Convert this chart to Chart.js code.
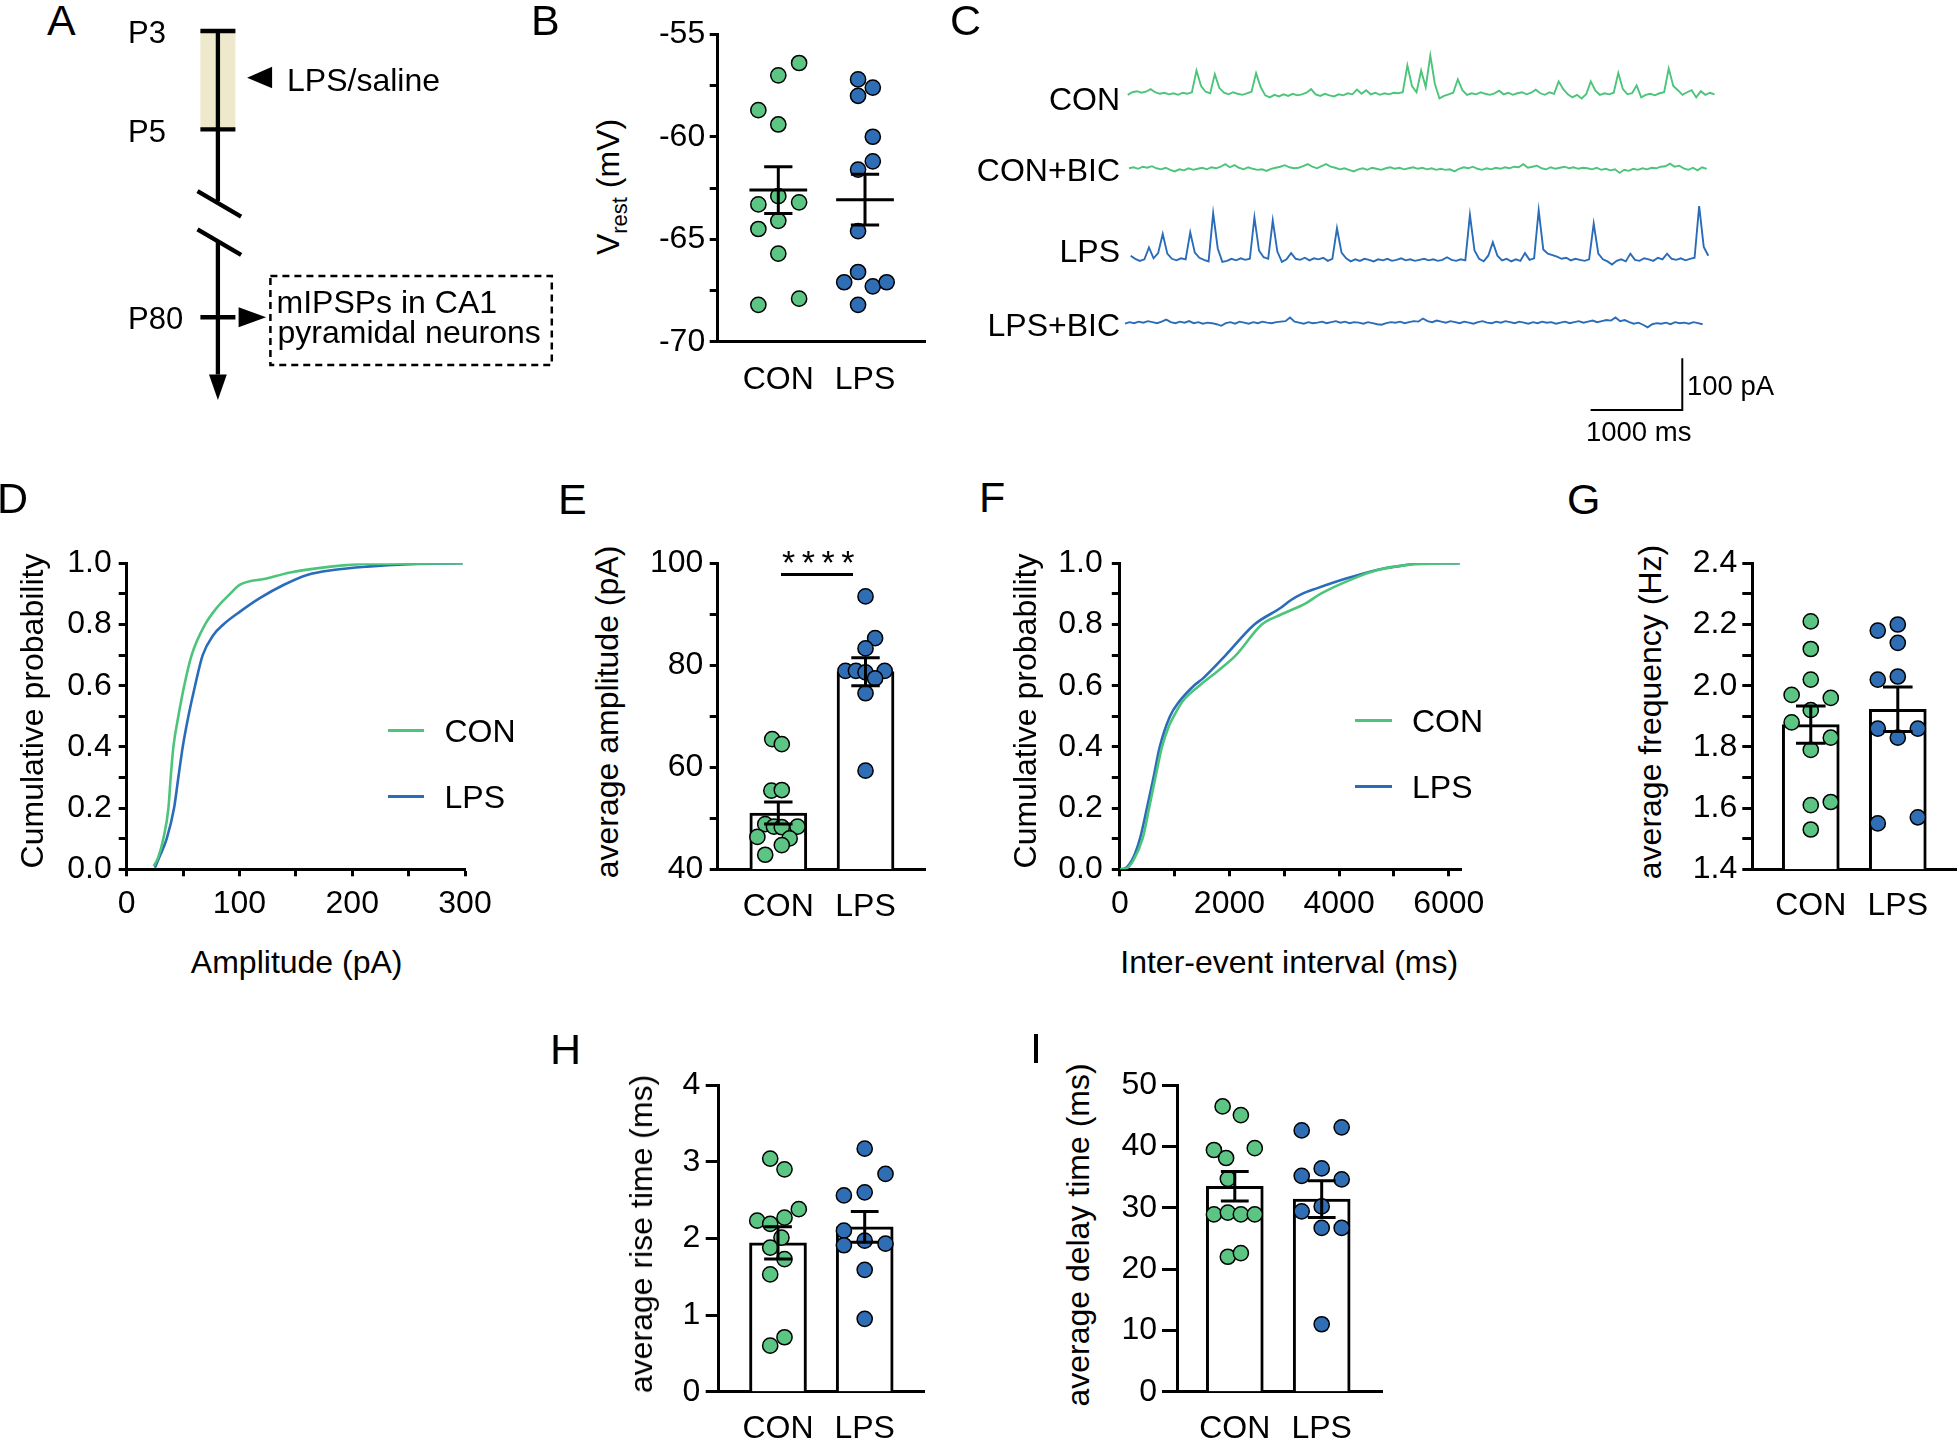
<!DOCTYPE html>
<html>
<head>
<meta charset="utf-8">
<script src="https://cdn.jsdelivr.net/npm/chart.js@4"></script>
<style>
  html, body { margin: 0; padding: 0; background: #fff; }
  #fig { position: relative; width: 1959px; height: 1442px; overflow: hidden; background: #fff;
         font-family: "Liberation Sans", Arial, Helvetica, sans-serif; color: #000; }
  #fig canvas { position: absolute; }
  .t { position: absolute; white-space: nowrap; line-height: 1; }
</style>
</head>
<body>
<div id="fig"></div>
<script>
// --- 1. DATA ---
const groups = ['CON', 'LPS'];

// A: timeline, positions along the age axis (P3 -> P5 = 1)
const stageLabels = ['P3', 'P5', 'P80'];
const stagePos = [0, 1, 2.912];
const treatSpan = [0, 1];
const axisBreak = [1.73, 2.14];
const axisEnd = 3.754;

// B: resting potential (mV); x = group position incl. jitter
const vrestCon  = [-56.4, -57.0, -58.7, -59.4, -62.9, -63.3, -63.2, -64.1, -64.5, -65.7, -67.9, -68.2];
const vrestConX = [1.24, 1.0, 0.77, 1.0, 1.0, 0.77, 1.24, 1.0, 0.77, 1.0, 1.24, 0.77];
const vrestLps  = [-57.2, -57.6, -58.0, -60.0, -61.2, -61.6, -64.6, -66.6, -67.1, -67.3, -67.1, -68.2];
const vrestLpsX = [1.92, 2.09, 1.92, 2.09, 2.09, 1.92, 1.92, 1.92, 1.76, 2.09, 2.25, 1.92];
const vrestMean = [-62.6, -63.07];
const vrestSem  = [1.14, 1.24];
const vrestTicks = [-70, -65, -60, -55];

// C: example traces, pA relative to baseline, one sample per 50 ms
const sampleMs = 50;
const traceNames = ['CON', 'CON+BIC', 'LPS', 'LPS+BIC'];
const conTrace = [-3,2,4,1,3,8,2,-1,1,-2, 0,-3,1,-1,2,44,14,3,0,37, 10,1,-2,2,-1,-3,0,3,39,12,
  -4,-8,-3,-6,-2,-5,-1,-4,-2,1, 8,-2,-5,-1,-4,-6,-2,-4,0,-2, 7,-1,6,-2,1,-3,0,-2,1,0,
  2,54,14,2,44,12,73,18,-10,-5, -2,1,27,6,-3,0,-2,2,-1,-3, 0,5,-2,1,-3,0,2,-2,1,7,
  0,-3,2,-1,23,8,-2,-8,-3,-10, -2,23,5,-3,0,-2,1,39,8,-2, 0,15,-8,-3,-1,-4,0,2,48,14,
  6,-3,2,6,-8,4,-3,1,-2];
const conBicTrace = [0,2,-1,3,1,4,0,-2,1,-3, -6,-2,-4,0,-3,-1,1,-2,2,0, 3,8,2,6,1,-2,2,-1,-3,-2,
  -5,-1,1,3,6,2,0,1,4,8, 3,0,4,8,3,1,-2,0,-3,-6, -2,0,-3,1,-1,-3,0,2,-1,1,
  -2,0,2,-1,1,-2,0,-3,-1,-3, -2,-6,-1,2,0,3,-1,-3,0,-2, 1,-1,2,0,3,2,8,1,3,5,
  0,-2,2,-1,1,3,0,2,-1,1, 0,-2,1,-3,-1,-4,-2,-9,-3,-5, -1,-3,0,-2,1,0,3,4,9,3,
  5,0,-3,1,-4,2,-1];
const lpsTrace = [8,2,-2,1,24,3,13,50,12,2, -1,3,1,53,14,4,0,-3,90,22, -4,-2,2,-1,3,0,2,82,18,5,
  2,76,16,-4,1,13,2,0,4,-1, 3,1,4,-2,2,61,14,3,-3,1, -2,2,0,-3,1,-1,2,-2,0,3,
  -1,1,-2,0,2,-1,1,-2,0,5, 0,-2,1,-1,87,18,2,-3,8,34, 8,-1,2,-3,1,-2,13,0,3,96,
  20,12,9,6,2,4,-1,2,0,-2, 1,70,12,1,-3,-9,-2,1,-3,12, 0,-2,3,1,-2,4,1,12,2,0,
  3,-1,2,4,104,25,8];
const lpsBicTrace = [-2,1,-1,2,0,3,1,-1,2,6, 1,-1,2,0,3,-1,1,-2,0,-1, -3,-6,-1,1,-2,2,0,-2,1,-1,
  2,0,-1,1,2,3,10,2,0,-2, 1,-1,0,2,-1,1,3,0,2,-1, 1,0,-2,1,-1,-3,-4,-1,1,0,
  2,-1,1,3,2,8,3,1,4,2, 0,3,1,-1,2,0,-2,1,3,0, -1,2,0,3,1,-1,2,0,-2,1,
  -1,2,0,1,-2,0,2,-1,1,3, 0,2,4,1,3,5,4,10,3,5, 1,-2,0,-4,-9,-3,-1,-2,0,-3,
  1,-1,0,-2,1,-1,-3];
const scaleBarMs = 1000;
const scaleBarPA = 100;

// D: cumulative amplitude distributions
const ampConX = [24, 28, 32.5, 37, 39, 41.4, 45.8, 51, 57.6, 69.5, 80, 91.6, 100.5, 124, 145, 183, 213, 298];
const ampConY = [0.01, 0.04, 0.1, 0.2, 0.3, 0.4, 0.5, 0.6, 0.7, 0.8, 0.855, 0.9, 0.93, 0.95, 0.97, 0.99, 0.998, 1.0];
const ampLpsX = [25, 29, 35.5, 42, 45.8, 49.7, 54.7, 60.6, 67.4, 76.9, 85.7, 100.5, 118, 139, 160, 183, 213, 251, 298];
const ampLpsY = [0.005, 0.04, 0.1, 0.2, 0.3, 0.4, 0.5, 0.6, 0.7, 0.766, 0.8, 0.842, 0.886, 0.929, 0.962, 0.978, 0.989, 0.997, 1.0];
const ampTicks = [0, 100, 200, 300];

// E: average amplitude (pA)
const ampCon  = [65.5, 64.5, 55.4, 55.5, 48.8, 48.3, 48.2, 48.3, 46.3, 46.0, 44.7, 42.8];
const ampConPX = [0.93, 1.04, 0.92, 1.04, 0.85, 0.95, 1.04, 1.22, 0.76, 1.13, 1.04, 0.85];
const ampLps  = [93.5, 85.3, 83.3, 78.9, 78.9, 78.6, 78.9, 77.4, 74.5, 59.3];
const ampLpsPX = [2.0, 2.11, 2.0, 1.77, 1.89, 2.0, 2.22, 2.11, 2.0, 2.0];
const ampMean = [51.0, 78.73];
const ampSem  = [2.15, 2.75];
const ampAvgTicks = [40, 60, 80, 100];

// F: cumulative inter-event interval distributions
const ieiConX = [0, 120, 250, 415, 535, 649, 769, 900, 983, 1150, 1451, 1800, 2120, 2589, 2923, 3391, 3659, 4261, 4700, 5264, 6200];
const ieiConY = [0, 0.003, 0.03, 0.1, 0.2, 0.3, 0.4, 0.47, 0.5, 0.55, 0.6, 0.65, 0.7, 0.8, 0.831, 0.869, 0.9, 0.95, 0.978, 0.995, 1.0];
const ieiLpsX = [0, 114, 250, 368, 495, 615, 729, 916, 1084, 1351, 1518, 1933, 2455, 2923, 3124, 3324, 3592, 4127, 4729, 5064, 5465, 6200];
const ieiLpsY = [0, 0.005, 0.04, 0.1, 0.2, 0.3, 0.4, 0.5, 0.548, 0.6, 0.624, 0.7, 0.8, 0.853, 0.88, 0.9, 0.918, 0.95, 0.98, 0.99, 1.0, 1.0];
const ieiTicks = [0, 2000, 4000, 6000];
const probTicks = [0, 0.2, 0.4, 0.6, 0.8, 1.0];

// G: average frequency (Hz)
const freqCon  = [2.21, 2.12, 2.02, 1.97, 1.96, 1.92, 1.88, 1.83, 1.79, 1.62, 1.61, 1.53];
const freqConX = [1.0, 1.0, 1.0, 0.78, 1.23, 1.0, 0.78, 1.23, 1.0, 1.23, 1.0, 1.0];
const freqLps  = [2.18, 2.20, 2.14, 2.02, 2.03, 1.86, 1.83, 1.86, 1.55, 1.57];
const freqLpsX = [1.77, 2.0, 2.0, 1.77, 2.0, 1.77, 2.0, 2.23, 1.77, 2.23];
const freqMean = [1.873, 1.923];
const freqSem  = [0.061, 0.073];
const freqTicks = [1.4, 1.6, 1.8, 2.0, 2.2, 2.4];

// H: average rise time (ms)
const riseCon  = [3.04, 2.90, 2.38, 2.23, 2.27, 2.19, 2.01, 1.88, 1.73, 1.53, 0.71, 0.60];
const riseConX = [0.91, 1.075, 1.24, 0.76, 1.075, 0.91, 1.04, 0.91, 1.075, 0.91, 1.075, 0.91];
const riseLps  = [3.17, 2.84, 2.56, 2.60, 2.10, 1.97, 1.91, 1.93, 1.59, 0.95];
const riseLpsX = [2.0, 2.24, 1.76, 2.0, 1.76, 2.0, 1.76, 2.24, 2.0, 2.0];
const riseMean = [1.94, 2.15];
const riseSem  = [0.21, 0.20];
const riseTicks = [0, 1, 2, 3, 4];

// I: average delay time (ms)
const delayCon  = [46.5, 45.1, 39.4, 39.7, 38.1, 34.7, 28.9, 29.2, 28.9, 28.9, 22.0, 22.6];
const delayConX = [0.86, 1.07, 0.76, 1.23, 0.90, 0.92, 0.76, 0.92, 1.07, 1.23, 0.92, 1.07];
const delayLps  = [42.6, 43.1, 36.4, 35.2, 34.6, 30.2, 29.4, 26.7, 26.7, 11.0];
const delayLpsX = [1.77, 2.23, 2.0, 1.77, 2.23, 2.0, 1.77, 2.0, 2.23, 2.0];
const delayMean = [33.5, 31.4];
const delaySem  = [2.4, 3.0];
const delayTicks = [0, 10, 20, 30, 40, 50];

// --- 2. STYLE & HELPERS ---
const FONT = '"Liberation Sans", Arial, Helvetica, sans-serif';
const DOT_GREEN = '#5cc584', DOT_BLUE = '#2f6db5';
const LINE_GREEN = '#4cc47a', LINE_BLUE = '#2a6cba';
const BEIGE = '#eee8cc';
Chart.defaults.font.family = FONT;
Chart.defaults.color = '#000';

const fig = document.getElementById('fig');

function addCanvas(left, top, w, h) {
    const c = document.createElement('canvas');
    c.width = w; c.height = h;
    c.style.left = left + 'px'; c.style.top = top + 'px';
    c.style.width = w + 'px'; c.style.height = h + 'px';
    fig.appendChild(c);
    return c;
}

// y is the centre of the capitals; rotated labels are centred on (x, y)
function addText(html, x, y, size, align, rotate, extra) {
    const d = document.createElement('div');
    d.className = 't';
    d.innerHTML = html;
    d.style.fontSize = size + 'px';
    if (rotate) {
        d.style.left = x + 'px'; d.style.top = y + 'px';
        d.style.transform = 'translate(-50%,-50%) rotate(-90deg)';
    } else {
        d.style.top = (y - 0.4885 * size) + 'px';
        if (align === 'right') d.style.right = (1959 - x) + 'px';
        else if (align === 'center') { d.style.left = x + 'px'; d.style.transform = 'translateX(-50%)'; }
        else d.style.left = x + 'px';
    }
    if (extra) Object.assign(d.style, extra);
    fig.appendChild(d);
    return d;
}

function addRule(left, top, w, h, color) {
    const d = document.createElement('div');
    Object.assign(d.style, { position: 'absolute', left: left + 'px', top: top + 'px', width: w + 'px', height: h + 'px', background: color });
    fig.appendChild(d);
}

function zeroPad(s) { s.paddingLeft = s.paddingRight = s.paddingTop = s.paddingBottom = 0; }
const near = (list, v) => list.some(t => Math.abs(t - v) < 1e-9);
const midpoints = list => list.slice(1).map((v, i) => (v + list[i]) / 2);

function baseOptions(box, area) {
    const [cl, ct, cw, ch] = box;
    const [l, t, r, b] = area;
    return {
        responsive: false, animation: false, events: [],
        layout: { autoPadding: false, padding: { left: 0, top: t - ct, right: cl + cw - r, bottom: 0 } },
        plugins: { legend: { display: false }, tooltip: { enabled: false } },
        _yWidth: l - cl, _xHeight: ct + ch - b
    };
}

function errorPoints(mean, sem, cap, meanHalf) {
    const pts = [];
    mean.forEach((m, i) => {
        const x = i + 1, hi = m + sem[i], lo = m - sem[i];
        pts.push({ x: x - cap, y: hi }, { x: x + cap, y: hi }, { x, y: null },
                 { x, y: hi }, { x, y: lo }, { x, y: null },
                 { x: x - cap, y: lo }, { x: x + cap, y: lo }, { x, y: null });
        if (meanHalf) pts.push({ x: x - meanHalf, y: m }, { x: x + meanHalf, y: m }, { x, y: null });
    });
    return pts;
}

// dot plot with optional bars, mean +/- SEM
function groupPanel(p) {
    const canvas = addCanvas(...p.box);
    const opts = baseOptions(p.box, p.area);
    const yAll = p.ticks.concat(p.minor ? midpoints(p.ticks) : []).sort((a, c) => a - c);
    const datasets = [];
    if (p.bars) {
        datasets.push({
            type: 'bar', order: 3,
            data: p.mean.map((m, i) => ({ x: i + 1, y: [p.ticks[0], m] })),
            backgroundColor: '#fff', borderColor: '#000', borderWidth: 3, barThickness: 57, borderSkipped: 'start'
        });
    }
    [[p.con, p.conX, DOT_GREEN], [p.lps, p.lpsX, DOT_BLUE]].forEach(([vals, xs, col]) => {
        datasets.push({
            type: 'scatter', order: 2,
            data: vals.map((v, i) => ({ x: xs[i], y: v })),
            pointRadius: 7.6, backgroundColor: col, borderColor: '#000', borderWidth: 1.5
        });
    });
    datasets.push({
        type: 'line', order: 1, data: errorPoints(p.mean, p.sem, p.cap, p.meanHalf),
        borderColor: '#000', borderWidth: 3, pointRadius: 0, fill: false, spanGaps: false, tension: 0
    });
    opts.scales = {
        x: {
            type: 'linear', min: p.xMin, max: p.xMax, offset: false,
            afterBuildTicks: s => { s.ticks = groups.map((g, i) => ({ value: i + 1 })); },
            afterFit: s => { s.height = opts._xHeight; zeroPad(s); },
            ticks: { callback: v => groups[Math.round(v) - 1], font: { size: 32 }, color: '#000', padding: p.xPad, autoSkip: false, maxRotation: 0, minRotation: 0 },
            grid: { display: false, offset: false },
            border: { display: true, width: 3, color: '#000' }
        },
        y: {
            type: 'linear', min: p.ticks[0], max: p.ticks[p.ticks.length - 1],
            afterBuildTicks: s => { s.ticks = yAll.map(v => ({ value: v })); },
            afterFit: s => { s.width = opts._yWidth; zeroPad(s); },
            ticks: { callback: v => near(p.ticks, v) ? p.fmt(v) : '', font: { size: 32 }, color: '#000', padding: p.yPad, autoSkip: false },
            grid: { display: true, drawOnChartArea: false, drawTicks: true, tickLength: p.tickLen, tickWidth: 3, tickColor: '#000' },
            border: { display: true, width: 3, color: '#000' }
        }
    };
    new Chart(canvas, { type: 'scatter', data: { datasets }, options: opts });
}

// cumulative probability panel
function cdfPanel(p) {
    const canvas = addCanvas(...p.box);
    const opts = baseOptions(p.box, p.area);
    const xAll = p.xTicks.concat(midpoints(p.xTicks)).sort((a, c) => a - c);
    const yAll = probTicks.concat(midpoints(probTicks)).sort((a, c) => a - c);
    const line = (xs, ys, col, order) => ({
        data: xs.map((x, i) => ({ x, y: ys[i] })), borderColor: col, order,
        borderWidth: 2.6, pointRadius: 0, fill: false, cubicInterpolationMode: 'monotone'
    });
    opts.scales = {
        x: {
            type: 'linear', min: 0, max: p.xMax,
            afterBuildTicks: s => { s.ticks = xAll.map(v => ({ value: v })); },
            afterFit: s => { s.height = opts._xHeight; zeroPad(s); },
            ticks: { callback: v => near(p.xTicks, v) ? String(v) : '', font: { size: 32 }, color: '#000', padding: 9, autoSkip: false, maxRotation: 0, minRotation: 0 },
            grid: { display: true, drawOnChartArea: false, drawTicks: true, tickLength: 7, tickWidth: 3, tickColor: '#000' },
            border: { display: true, width: 3, color: '#000' }
        },
        y: {
            type: 'linear', min: 0, max: 1,
            afterBuildTicks: s => { s.ticks = yAll.map(v => ({ value: v })); },
            afterFit: s => { s.width = opts._yWidth; zeroPad(s); },
            ticks: { callback: v => near(probTicks, v) ? v.toFixed(1) : '', font: { size: 32 }, color: '#000', padding: p.yPad, autoSkip: false },
            grid: { display: true, drawOnChartArea: false, drawTicks: true, tickLength: 8, tickWidth: 3, tickColor: '#000' },
            border: { display: true, width: 3, color: '#000' }
        }
    };
    new Chart(canvas, {
        type: 'line',
        data: { datasets: [line(p.conX, p.conY, LINE_GREEN, 0), line(p.lpsX, p.lpsY, LINE_BLUE, 1)] },
        options: opts
    });
}

// --- 3. PANEL A : timeline schematic ---
(function () {
    const canvas = addCanvas(100, 0, 470, 410);
    const hw = 17.5;                       // half width of the stage bars (px)
    const black = { borderColor: '#000', borderWidth: 4.3, pointRadius: 0, fill: false, tension: 0 };
    const poly = (pts, extra) => Object.assign({ data: pts.concat([pts[0]]), pointRadius: 0, tension: 0 }, extra);
    const ticks = [];
    stagePos.forEach(s => ticks.push({ x: -hw, y: s }, { x: hw, y: s }, { x: 0, y: null }));
    const datasets = [
        poly([{ x: -hw, y: treatSpan[0] }, { x: hw, y: treatSpan[0] }, { x: hw, y: treatSpan[1] }, { x: -hw, y: treatSpan[1] }],
             { fill: 'shape', backgroundColor: BEIGE, borderWidth: 0, order: 5 }),
        Object.assign({ data: [{ x: 0, y: stagePos[0] }, { x: 0, y: axisBreak[0] }, { x: 0, y: null },
                               { x: 0, y: axisBreak[1] }, { x: 0, y: axisEnd - 0.26 }], order: 2 }, black),
        Object.assign({ data: ticks, order: 2 }, black),
        Object.assign({ data: [{ x: -20.4, y: axisBreak[0] - 0.102 }, { x: 23.2, y: axisBreak[0] + 0.159 }, { x: 0, y: null },
                               { x: -20.4, y: axisBreak[1] - 0.123 }, { x: 23.2, y: axisBreak[1] + 0.137 }], order: 2 }, black),
        poly([{ x: 0, y: axisEnd }, { x: -8.9, y: axisEnd - 0.26 }, { x: 8.9, y: axisEnd - 0.26 }],
             { fill: 'shape', backgroundColor: '#000', borderWidth: 0, order: 1 }),
        poly([{ x: 48.2, y: stagePos[2] }, { x: 20.7, y: stagePos[2] - 0.102 }, { x: 20.7, y: stagePos[2] + 0.102 }],
             { fill: 'shape', backgroundColor: '#000', borderWidth: 0, order: 1 }),
        poly([{ x: 29.2, y: 0.475 }, { x: 54.2, y: 0.364 }, { x: 54.2, y: 0.583 }],
             { fill: 'shape', backgroundColor: '#000', borderWidth: 0, order: 1 }),
        poly([{ x: 52.5, y: 2.492 }, { x: 333.9, y: 2.492 }, { x: 333.9, y: 3.398 }, { x: 52.5, y: 3.398 }],
             { fill: false, borderColor: '#000', borderWidth: 2.5, borderDash: [7, 5], order: 1 })
    ];
    new Chart(canvas, {
        type: 'line',
        data: { datasets },
        options: {
            responsive: false, animation: false, events: [],
            layout: { autoPadding: false, padding: 0 },
            plugins: { legend: { display: false }, tooltip: { enabled: false } },
            scales: {
                x: { type: 'linear', display: false, min: -117.9, max: 352.1 },
                y: { type: 'linear', display: false, min: -0.3154, max: 3.8555, reverse: true }
            }
        }
    });
    const stageY = [32.5, 130.8, 318.3];
    stageLabels.forEach((s, i) => addText(s, 128, stageY[i], 31));
    addText('LPS/saline', 287, 80, 32);
    addText('mIPSPs in CA1', 276.5, 301.5, 32);
    addText('pyramidal neurons', 277.5, 331.5, 32);
})();

// --- 4. PANEL B ---
groupPanel({
    box: [640, 10, 320, 400], area: [717.7, 34.3, 925, 341.7],
    xMin: 0.301, xMax: 2.692, ticks: vrestTicks, minor: true, fmt: v => String(v),
    tickLen: 8, yPad: 4.5, xPad: 11.5,
    con: vrestCon, conX: vrestConX, lps: vrestLps, lpsX: vrestLpsX,
    mean: vrestMean, sem: vrestSem, cap: 0.163, meanHalf: 0.333, bars: false
});
addText('V<span style="font-size:22px;position:relative;top:8px">rest</span> (mV)', 607.5, 186.7, 32, null, true);

// --- 5. PANEL C : traces ---
(function () {
    const canvas = addCanvas(1100, 30, 640, 420);
    const traces = [conTrace, conBicTrace, lpsTrace, lpsBicTrace];
    const base = [622, 477, 300, 178.5];     // vertical offsets of the stacked traces (pA)
    const start = [8, 22, 40, -22];          // horizontal start of each trace (ms)
    const cols = [LINE_GREEN, LINE_GREEN, LINE_BLUE, LINE_BLUE];
    const bar = { x: 6056, y: 9.7 };         // corner of the scale bar
    const datasets = traces.map((tr, k) => ({
        data: tr.map((v, i) => ({ x: start[k] + i * sampleMs, y: base[k] + v })),
        borderColor: cols[k], borderWidth: 1.9, pointRadius: 0, fill: false, tension: 0
    }));
    datasets.push({
        data: [{ x: bar.x - scaleBarMs, y: bar.y }, { x: bar.x, y: bar.y }, { x: bar.x, y: bar.y + scaleBarPA }],
        borderColor: '#000', borderWidth: 2, pointRadius: 0, fill: false, tension: 0
    });
    new Chart(canvas, {
        type: 'line',
        data: { datasets },
        options: {
            responsive: false, animation: false, events: [],
            layout: { autoPadding: false, padding: { left: 17.8, top: 10, right: 17, bottom: 35 } },
            plugins: { legend: { display: false }, tooltip: { enabled: false } },
            scales: {
                x: { type: 'linear', display: false, min: -100, max: 6500 },
                y: { type: 'linear', display: false, min: 0, max: 725 }
            }
        }
    });
    const labelY = [98.3, 170, 250.5, 325];
    traceNames.forEach((n, i) => addText(n, 1120, labelY[i], 32, 'right'));
    addText(scaleBarPA + ' pA', 1687, 385, 27.5);
    addText(scaleBarMs + ' ms', 1638.7, 431, 27.5, 'center');
})();

// --- 6. PANEL D ---
cdfPanel({
    box: [40, 540, 470, 380], area: [126.7, 563.3, 465, 869.3],
    xMax: 300, xTicks: ampTicks, yPad: 7,
    conX: ampConX, conY: ampConY, lpsX: ampLpsX, lpsY: ampLpsY
});
addText('Cumulative probability', 31.7, 710.8, 32, null, true);
addText('Amplitude (pA)', 296.7, 961.7, 32, 'center');
addRule(388, 728.5, 36, 3.3, LINE_GREEN);
addRule(388, 795, 36, 3.3, LINE_BLUE);
addText('CON', 444.5, 730.8, 32);
addText('LPS', 444.5, 797, 32);

// --- 7. PANEL E ---
groupPanel({
    box: [640, 540, 320, 390], area: [717.7, 563.3, 925, 869],
    xMin: 0.305, xMax: 2.682, ticks: ampAvgTicks, minor: true, fmt: v => String(v),
    tickLen: 8, yPad: 6.4, xPad: 11,
    con: ampCon, conX: ampConPX, lps: ampLps, lpsX: ampLpsPX,
    mean: ampMean, sem: ampSem, cap: 0.163, bars: true
});
addText('average amplitude (pA)', 607, 711.7, 32, null, true);
addRule(781, 572.8, 72, 3, '#000');
addText('****', 821.5, 562, 34, 'center', false, { letterSpacing: '6.5px' });

// --- 8. PANEL F ---
cdfPanel({
    box: [1040, 540, 460, 380], area: [1119.8, 563.3, 1461.5, 869.3],
    xMax: 6233, xTicks: ieiTicks, yPad: 9,
    conX: ieiConX, conY: ieiConY, lpsX: ieiLpsX, lpsY: ieiLpsY
});
addText('Cumulative probability', 1025.2, 710.8, 32, null, true);
addText('Inter-event interval (ms)', 1289.2, 961.7, 32, 'center');
addRule(1355.2, 718.5, 36.7, 3.3, LINE_GREEN);
addRule(1355.2, 785, 36.7, 3.3, LINE_BLUE);
addText('CON', 1412, 720.5, 32);
addText('LPS', 1412, 787, 32);

// --- 9. PANEL G ---
groupPanel({
    box: [1680, 540, 279, 390], area: [1752.3, 563.3, 1956.7, 869.3],
    xMin: 0.328, xMax: 2.677, ticks: freqTicks, minor: true, fmt: v => v.toFixed(1),
    tickLen: 10, yPad: 5, xPad: 10,
    con: freqCon, conX: freqConX, lps: freqLps, lpsX: freqLpsX,
    mean: freqMean, sem: freqSem, cap: 0.17, bars: true
});
addText('average frequency (Hz)', 1649.7, 711.7, 32, null, true);

// --- 10. PANEL H ---
groupPanel({
    box: [640, 1060, 320, 382], area: [718.7, 1085, 924.7, 1391.7],
    xMin: 0.316, xMax: 2.692, ticks: riseTicks, minor: false, fmt: v => String(v),
    tickLen: 13, yPad: 5.4, xPad: 10,
    con: riseCon, conX: riseConX, lps: riseLps, lpsX: riseLpsX,
    mean: riseMean, sem: riseSem, cap: 0.16, bars: true
});
addText('average rise time (ms)', 640.8, 1234, 32, null, true);

// --- 11. PANEL I ---
groupPanel({
    box: [1100, 1060, 320, 382], area: [1177, 1085, 1382, 1391.7],
    xMin: 0.335, xMax: 2.694, ticks: delayTicks, minor: false, fmt: v => String(v),
    tickLen: 15, yPad: 5, xPad: 10,
    con: delayCon, conX: delayConX, lps: delayLps, lpsX: delayLpsX,
    mean: delayMean, sem: delaySem, cap: 0.16, bars: true
});
addText('average delay time (ms)', 1077.8, 1234.8, 32, null, true);

// --- 12. PANEL LETTERS ---
[['A', 47, 20], ['B', 531, 20], ['C', 950, 20], ['D', -3, 498], ['E', 558, 498.8],
 ['F', 979, 497.5], ['G', 1567, 499], ['H', 550, 1049], ['I', 1030, 1048]]
    .forEach(([s, x, y]) => addText(s, x, y, 43));
</script>
</body>
</html>
